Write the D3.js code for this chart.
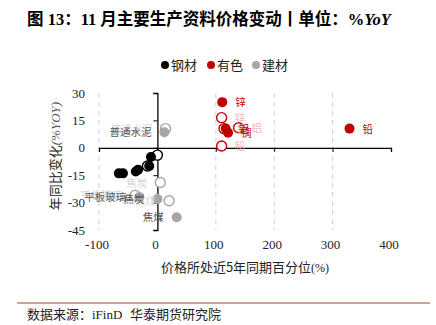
<!DOCTYPE html>
<html><head><meta charset="utf-8">
<script src="https://cdn.jsdelivr.net/npm/d3@7"></script>
<style>
body{margin:0;background:#fff;}
svg{display:block;}
</style></head>
<body>
<svg id="c" width="436" height="325"></svg>
<script>
// ---- data ----
const xTicks = [-100, 0, 100, 200, 300, 400];
const yTicks = [30, 15, 0, -15, -30, -45];
const gridX = [-100, 100, 200, 300];
const legendNames = ["钢材", "有色", "建材"];

// 钢材 (steel) current / previous: [percentile, yoy]
const steelNow = [[-66, -14], [-59, -14], [-37, -13], [-33, -12], [-14, -10], [-11, -5]];
const steelPrev = [[-17, -10], [0, -4]];

// 有色 (non-ferrous)
const nfNames = ["锌", "铝", "铜", "铅"];
const nfNow = [[111, 25], [117, 10.5], [121, 8.2], [329, 10.5]];
const nfPrev = [[110, 16.5], [139, 11], [114, 10.5], [110, 1]];

// 建材 (building materials)
const bmNames = ["普通水泥", "平板玻璃", "焦炭", "焦煤"];
const bmNow = [[12, 8.5], [-31, -27], [0, -28], [33, -38]];
const bmPrev = [[14, 10.5], [-38, -26], [5, -19], [20, -29]];

// ---- drawing ----
const svg = d3.select("#c");
const x = d3.scaleLinear().domain([-100, 400]).range([99, 391]);
const y = d3.scaleLinear().domain([-45, 30]).range([230, 93]);
const RED = "#C00000", GRAY = "#A6A6A6";
const serif = "'Liberation Serif','Times New Roman',serif";
const sans = "'Noto Sans CJK SC','Noto Sans',sans-serif";

// title
const t = svg.append("text").attr("x", 27).attr("y", 25)
  .attr("font-family", serif + ",'Noto Sans CJK SC'").attr("font-weight", "bold")
  .attr("font-size", 16.5).attr("fill", "#000");
t.append("tspan").text("图 13：11 月主要生产资料价格变动丨单位：%");
t.append("tspan").attr("font-style", "italic").text("YoY");

// legend
const legColors = ["#000", RED, GRAY];
const legX = [165, 211, 256];
legendNames.forEach((n, i) => {
  svg.append("circle").attr("cx", legX[i]).attr("cy", 65).attr("r", 4).attr("fill", legColors[i]);
  svg.append("text").attr("x", legX[i] + 6).attr("y", 70).attr("font-family", sans)
    .attr("font-size", 13).attr("fill", "#222").text(n);
});

// grid
svg.append("g").selectAll("line").data(gridX).join("line")
  .attr("x1", d => x(d)).attr("x2", d => x(d))
  .attr("y1", y(30)).attr("y2", y(-45))
  .attr("stroke", "#d9d9d9").attr("stroke-width", 1.2).attr("stroke-dasharray", "5,4");

// horizontal axis at y=0
const ax = svg.append("g").attr("transform", `translate(0,${y(0)})`)
  .call(d3.axisBottom(x).tickValues(xTicks).tickSize(4).tickFormat(""));
ax.select(".domain").attr("stroke", "#000").attr("stroke-width", 1.3);
ax.selectAll(".tick line").attr("stroke", "#000");

// vertical axis at x=0
const ay = svg.append("g").attr("transform", `translate(${x(0)},0)`)
  .call(d3.axisLeft(y).tickValues(yTicks).tickSize(4).tickSizeOuter(4).tickFormat(""));
ay.select(".domain").attr("stroke", "#000").attr("stroke-width", 1.3);
ay.selectAll(".tick line").attr("stroke", "#000");

// tick labels
svg.append("g").selectAll("text").data(xTicks).join("text")
  .attr("x", d => x(d) - 2).attr("y", 249).attr("text-anchor", "middle")
  .attr("font-family", serif).attr("font-size", 13).attr("fill", "#222").text(d => d);
svg.append("g").selectAll("text").data(yTicks).join("text")
  .attr("x", 85).attr("y", d => y(d) + 4.5).attr("text-anchor", "end")
  .attr("font-family", serif).attr("font-size", 13).attr("fill", "#222").text(d => d);

// axis titles
const xt = svg.append("text").attr("x", 245).attr("y", 272).attr("text-anchor", "middle")
  .attr("font-family", sans).attr("font-size", 13).attr("fill", "#222");
xt.append("tspan").text("价格所处近5年同期百分位");
xt.append("tspan").attr("font-family", serif).attr("font-size", 12).text("(%)");

const yt = svg.append("text").attr("transform", "translate(60,156) rotate(-90)")
  .attr("text-anchor", "middle").attr("font-family", sans).attr("font-size", 13).attr("fill", "#222");
yt.append("tspan").text("年同比变化");
yt.append("tspan").attr("font-family", serif).attr("font-style", "italic").attr("fill", "#555").text("(%YOY)");

const R = 5;
const plot = svg.append("g");

function openPts(data, color) {
  plot.append("g").selectAll("circle").data(data).join("circle")
    .attr("cx", d => x(d[0])).attr("cy", d => y(d[1])).attr("r", R)
    .attr("fill", "#fff").attr("stroke", color).attr("stroke-width", 1.4);
}
function filledPts(data, color) {
  plot.append("g").selectAll("circle").data(data).join("circle")
    .attr("cx", d => x(d[0])).attr("cy", d => y(d[1])).attr("r", R)
    .attr("fill", color);
}
openPts(steelPrev, "#000");
openPts(nfPrev, RED);
openPts(bmPrev, GRAY);
filledPts(steelNow, "#000");
filledPts(nfNow, RED);
filledPts(bmNow, GRAY);

function labels(data, names, color, side) {
  plot.append("g").selectAll("text").data(data).join("text")
    .attr("x", d => x(d[0]) + (side > 0 ? 13 : -13))
    .attr("y", d => y(d[1]) + 4)
    .attr("text-anchor", side > 0 ? "start" : "end")
    .attr("font-family", sans).attr("font-size", 10.5).attr("fill", color)
    .text((d, i) => names[i]);
}
labels(nfPrev, nfNames, "#F4B8B8", 1);
labels(bmPrev, bmNames, "#D6D6D6", -1);
labels(nfNow, nfNames, RED, 1);
labels(bmNow, bmNames, "#555", -1);

// footer
svg.append("line").attr("x1", 17).attr("x2", 430).attr("y1", 303).attr("y2", 303)
  .attr("stroke", "#C97A7A").attr("stroke-width", 1.6);
const ft = svg.append("text").attr("y", 319).attr("font-family", serif + ",'Noto Sans CJK SC'")
  .attr("font-size", 13).attr("fill", "#222");
ft.append("tspan").attr("x", 27).text("数据来源：iFinD");
ft.append("tspan").attr("x", 130).text("华泰期货研究院");
</script>
</body></html>
